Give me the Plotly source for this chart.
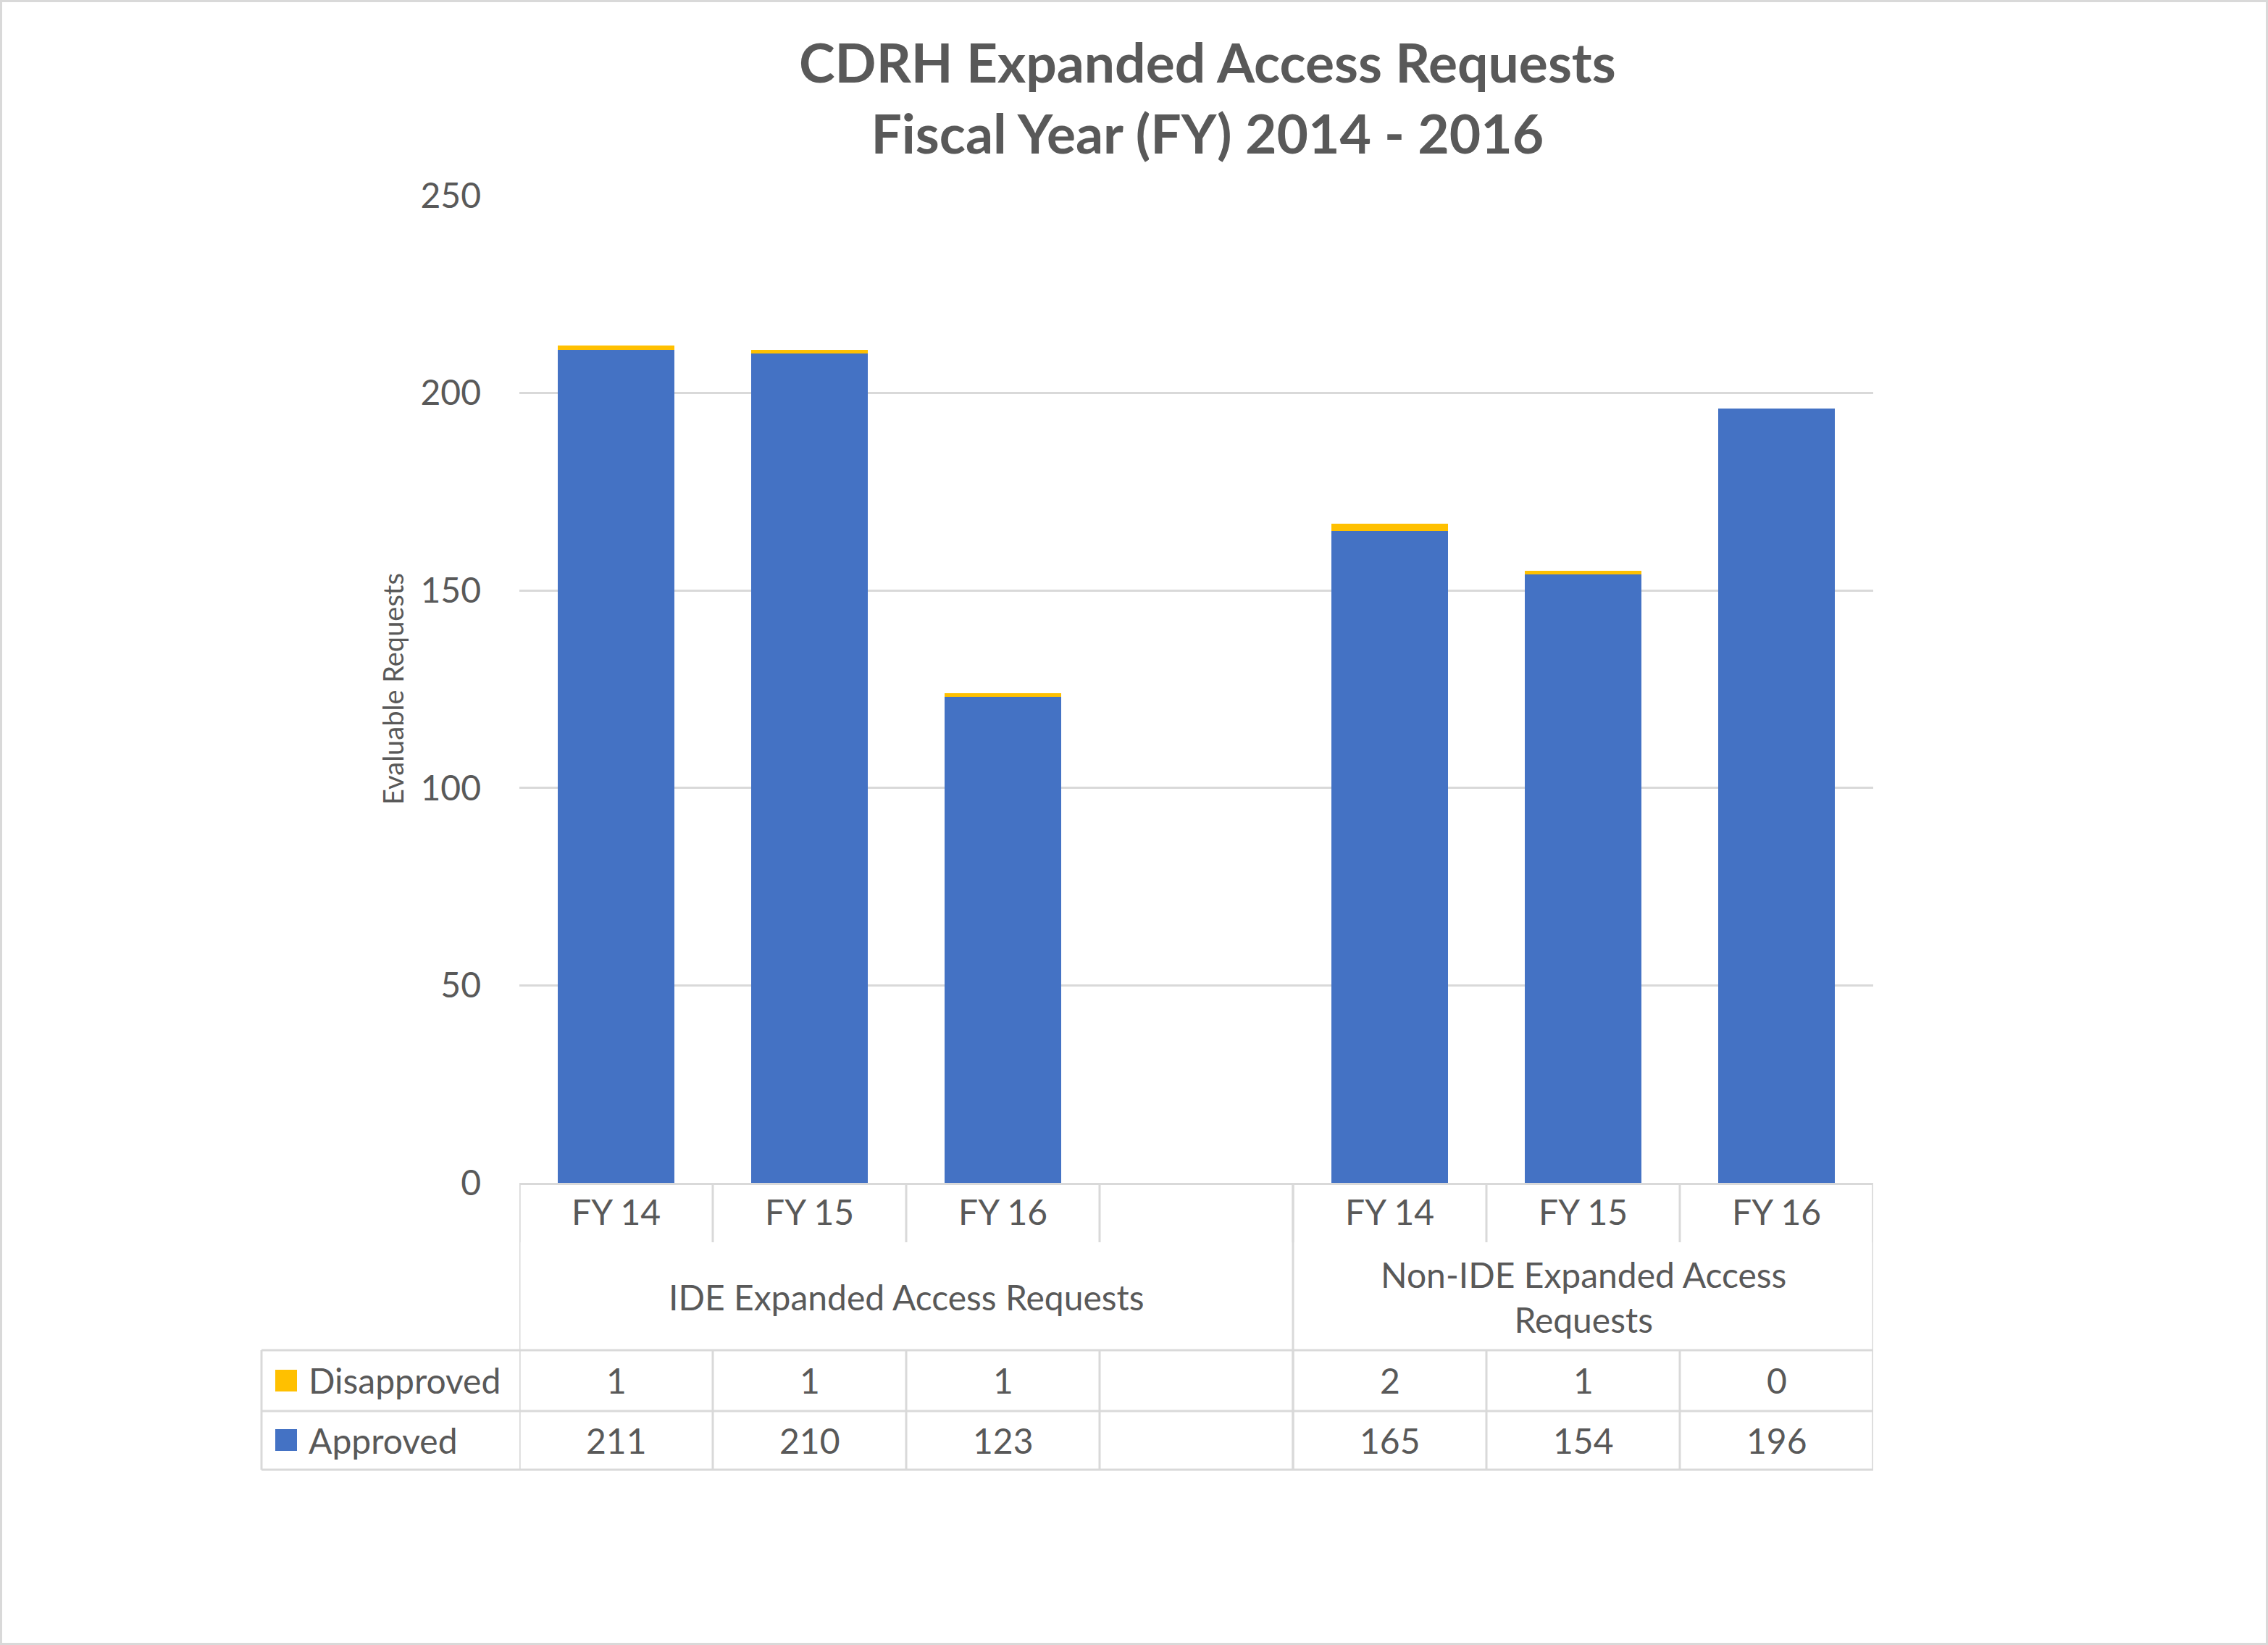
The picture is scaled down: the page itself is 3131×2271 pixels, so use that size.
import plotly.graph_objects as go

# ---------------- data ----------------
title_lines = ["CDRH Expanded Access Requests", "Fiscal Year (FY) 2014 - 2016"]
y_title = "Evaluable Requests"
group_labels = ["IDE Expanded Access Requests", "Non-IDE Expanded Access<br>Requests"]
years = ["FY 14", "FY 15", "FY 16"]
approved_ide = [211, 210, 123]
approved_non_ide = [165, 154, 196]
disapproved_ide = [1, 1, 1]
disapproved_non_ide = [2, 1, 0]
series_names = ["Disapproved", "Approved"]
y_ticks = [0, 50, 100, 150, 200, 250]

# ---------------- styling / layout ----------------
W, H = 3131, 2271
L, R, T, B = 717, 545, 270, 638
PW, PH = W - L - R, H - T - B
TEXT = "#595959"
GRID = "#D9D9D9"
BLUE = "#4472C4"
GOLD = "#FFC000"
FONT = "Lato"

def px_x(p):
    return (p - L) / PW

def px_y(p):
    return (H - B - p) / PH

# slots: group 1 uses 3 slots + 1 empty slot, group 2 uses 3 slots
n1 = len(years)
x_ide = list(range(n1))
x_non = [i + n1 + 1 for i in range(len(years))]
x_all = x_ide + x_non
n_slots = n1 + 1 + len(years)

approved = approved_ide + approved_non_ide
disapproved = disapproved_ide + disapproved_non_ide
labels_all = years + years

fig = go.Figure()
fig.add_trace(go.Bar(x=x_all, y=approved, name=series_names[1],
                     marker=dict(color=BLUE, line=dict(width=0)), width=0.6))
fig.add_trace(go.Bar(x=x_all, y=disapproved, name=series_names[0],
                     marker=dict(color=GOLD, line=dict(width=0)), width=0.6))

shapes = []
ann = []

def line(x0, y0, x1, y1, xref="x"):
    shapes.append(dict(type="line", xref=xref, yref="paper", x0=x0, x1=x1,
                       y0=px_y(y0), y1=px_y(y1), line=dict(color=GRID, width=3)))

AX = 1633
ROW_FY = 1715
ROW_1 = 1864
ROW_2 = 1948
ROW_3 = 2029
LEG_L = 361

bounds = [i - 0.5 for i in range(n_slots + 1)]
group_bounds = [-0.5, n1 + 0.5, n_slots - 0.5]
# FY row dividers
for b in bounds:
    line(b, AX, b, ROW_FY)
# group dividers (full height)
for b in group_bounds:
    line(b, AX, b, ROW_3)
# data rows dividers
for b in bounds:
    line(b, ROW_1, b, ROW_3)
line(px_x(LEG_L), ROW_1, px_x(LEG_L), ROW_3, xref="paper")
# horizontal lines
for yy in [ROW_1, ROW_2, ROW_3]:
    line(px_x(LEG_L), yy, 1.0, yy, xref="paper")

# chart border
shapes.append(dict(type="rect", xref="paper", yref="paper",
                   x0=px_x(1.5), x1=px_x(W - 1.5), y0=px_y(1.5), y1=px_y(H - 1.5),
                   line=dict(color=GRID, width=3), layer="below"))

tf = dict(family=FONT, size=48, color=TEXT)
# FY labels
for xv, lab in zip(x_all, labels_all):
    ann.append(dict(x=xv, y=px_y(1673), xref="x", yref="paper", text=lab,
                    showarrow=False, font=tf, xanchor="center", yanchor="middle"))
# group labels
ann.append(dict(x=(x_ide[0] + x_ide[-1] + 1) / 2, y=px_y(1790), xref="x", yref="paper",
                text=group_labels[0], showarrow=False, font=tf,
                xanchor="center", yanchor="middle"))
ann.append(dict(x=(x_non[0] + x_non[-1]) / 2, y=px_y(1790), xref="x", yref="paper",
                text=group_labels[1], showarrow=False, font=tf,
                xanchor="center", yanchor="middle"))
# data rows
rows = [(disapproved, GOLD, series_names[0], 1906), (approved, BLUE, series_names[1], 1988)]
for vals, col, name, yc in rows:
    for xv, v in zip(x_all, vals):
        ann.append(dict(x=xv, y=px_y(yc), xref="x", yref="paper", text=str(v),
                        showarrow=False, font=tf, xanchor="center", yanchor="middle"))
    shapes.append(dict(type="rect", xref="paper", yref="paper",
                       x0=px_x(380), x1=px_x(410), y0=px_y(yc - 15), y1=px_y(yc + 15),
                       fillcolor=col, line=dict(width=0)))
    ann.append(dict(x=px_x(424), y=px_y(yc), xref="paper", yref="paper", text=name,
                    showarrow=False, font=tf, xanchor="left", yanchor="middle"))

# title
ann.append(dict(x=px_x(1667), y=px_y(134), xref="paper", yref="paper",
                text="<b>" + "<br>".join(title_lines) + "</b>", showarrow=False,
                font=dict(family=FONT, size=75, color=TEXT),
                xanchor="center", yanchor="middle"))
# y title
ann.append(dict(x=px_x(542), y=px_y(951), xref="paper", yref="paper", text=y_title,
                textangle=-90, showarrow=False,
                font=dict(family=FONT, size=38, color=TEXT),
                xanchor="center", yanchor="middle"))

fig.update_layout(
    width=W, height=H, autosize=False,
    margin=dict(l=L, r=R, t=T, b=B, pad=0),
    barmode="stack", showlegend=False,
    paper_bgcolor="white", plot_bgcolor="white",
    font=dict(family=FONT, color=TEXT),
    shapes=shapes, annotations=ann,
    xaxis=dict(range=[-0.5, n_slots - 0.5], showticklabels=False, showgrid=False,
               zeroline=False, showline=True, linecolor=GRID, linewidth=3, ticks=""),
    yaxis=dict(range=[0, 250], tickvals=y_ticks, showgrid=True, gridcolor=GRID,
               gridwidth=3, zeroline=False, showline=False, ticks="",
               ticklabelstandoff=52, tickfont=dict(family=FONT, size=48, color=TEXT)),
)

fig.write_html("out.html", config={"displayModeBar": False},
               post_script="document.body.style.margin='0';document.body.style.overflow='hidden';")
